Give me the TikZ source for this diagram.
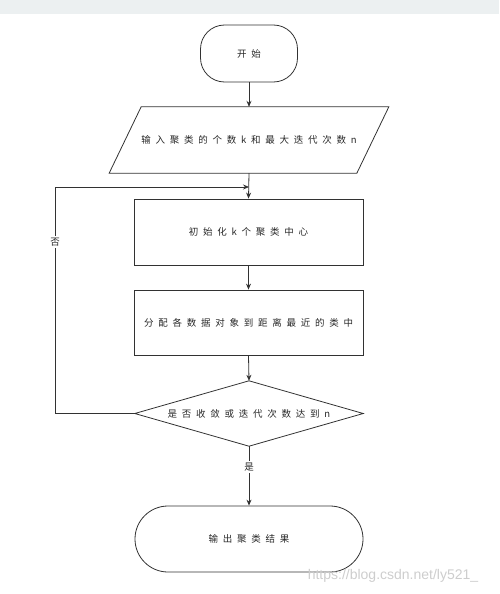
\documentclass[tikz,border=0pt]{standalone}
\usepackage{fontspec}
\usetikzlibrary{arrows.meta,calc}
\newfontfamily\cjk[LetterSpace=50]{Noto Sans CJK SC}
\newfontfamily\wmfont{Liberation Sans}
\definecolor{band}{RGB}{236,240,241}
\definecolor{ln}{RGB}{50,50,50}
\definecolor{txt}{RGB}{40,40,40}
\definecolor{wm}{RGB}{205,205,205}
\tikzset{
  x=1pt, y=-1pt,
  every node/.style={font=\cjk\fontsize{9.5}{11}\selectfont, text=txt},
  term/.style={draw=ln, line width=0.8pt, rounded corners=#1, minimum width=228pt, inner sep=0pt},
  procbox/.style={draw=ln, line width=0.8pt, minimum width=229pt, minimum height=66pt, inner sep=0pt},
  ghost/.style={minimum width=228pt, minimum height=65pt, inner sep=0pt},
  conn/.style={draw=ln, line width=0.8pt, -{Stealth[length=6pt,width=5pt]}},
  plain/.style={draw=ln, line width=0.8pt},
  lbl/.style={fill=white, inner sep=1.5pt}
}
\begin{document}
\begin{tikzpicture}
\useasboundingbox (0,0) rectangle (499,594);
\fill[band] (0,0) rectangle (499,14);

\node[term=24pt, minimum width=97pt, minimum height=57pt] (start) at (249,53.5) {开始};
\node[minimum width=198pt, minimum height=66pt, inner sep=0pt] (inp) at (249,140) {输入聚类的个数k和最大迭代次数n};
\draw[plain] (inp.north west) -- ($(inp.north east)+(32,0)$) -- (inp.south east) -- ($(inp.south west)+(-32,0)$) -- cycle;
\node[procbox] (b1) at (248.5,232) {初始化k个聚类中心};
\node[procbox, minimum height=65pt] (b2) at (248.5,322.5) {分配各数据对象到距离最近的类中};
\node[ghost] (dec) at (249,413.5) {是否收敛或迭代次数达到n};
\draw[plain] (dec.north) -- (dec.east) -- (dec.south) -- (dec.west) -- cycle;
\node[term=33pt, minimum height=66pt] (end) at (249,539) {输出聚类结果};

\coordinate (j) at (249,187);
\coordinate (lp) at (55,187);
\coordinate (lb) at (55,413.5);

\draw[conn] (start.south) -- (inp.north);
\draw[conn] (inp.south) -- (b1.north);
\draw[conn] (b1.south) -- (b2.north);
\draw[conn] (b2.south) -- (dec.north);
\draw[conn] (dec.south) -- (end.north);
\draw[conn] (dec.west) -- (lb) -- (lp) -- (j);
\node[lbl] (yes) at (249,467) {是};
\node[lbl] (no) at (55,242) {否};

\node[font=\wmfont\fontsize{14}{16}\selectfont, text=wm] (wmk) at (393,576) {https://blog.csdn.net/ly521\_};
\end{tikzpicture}
\end{document}
